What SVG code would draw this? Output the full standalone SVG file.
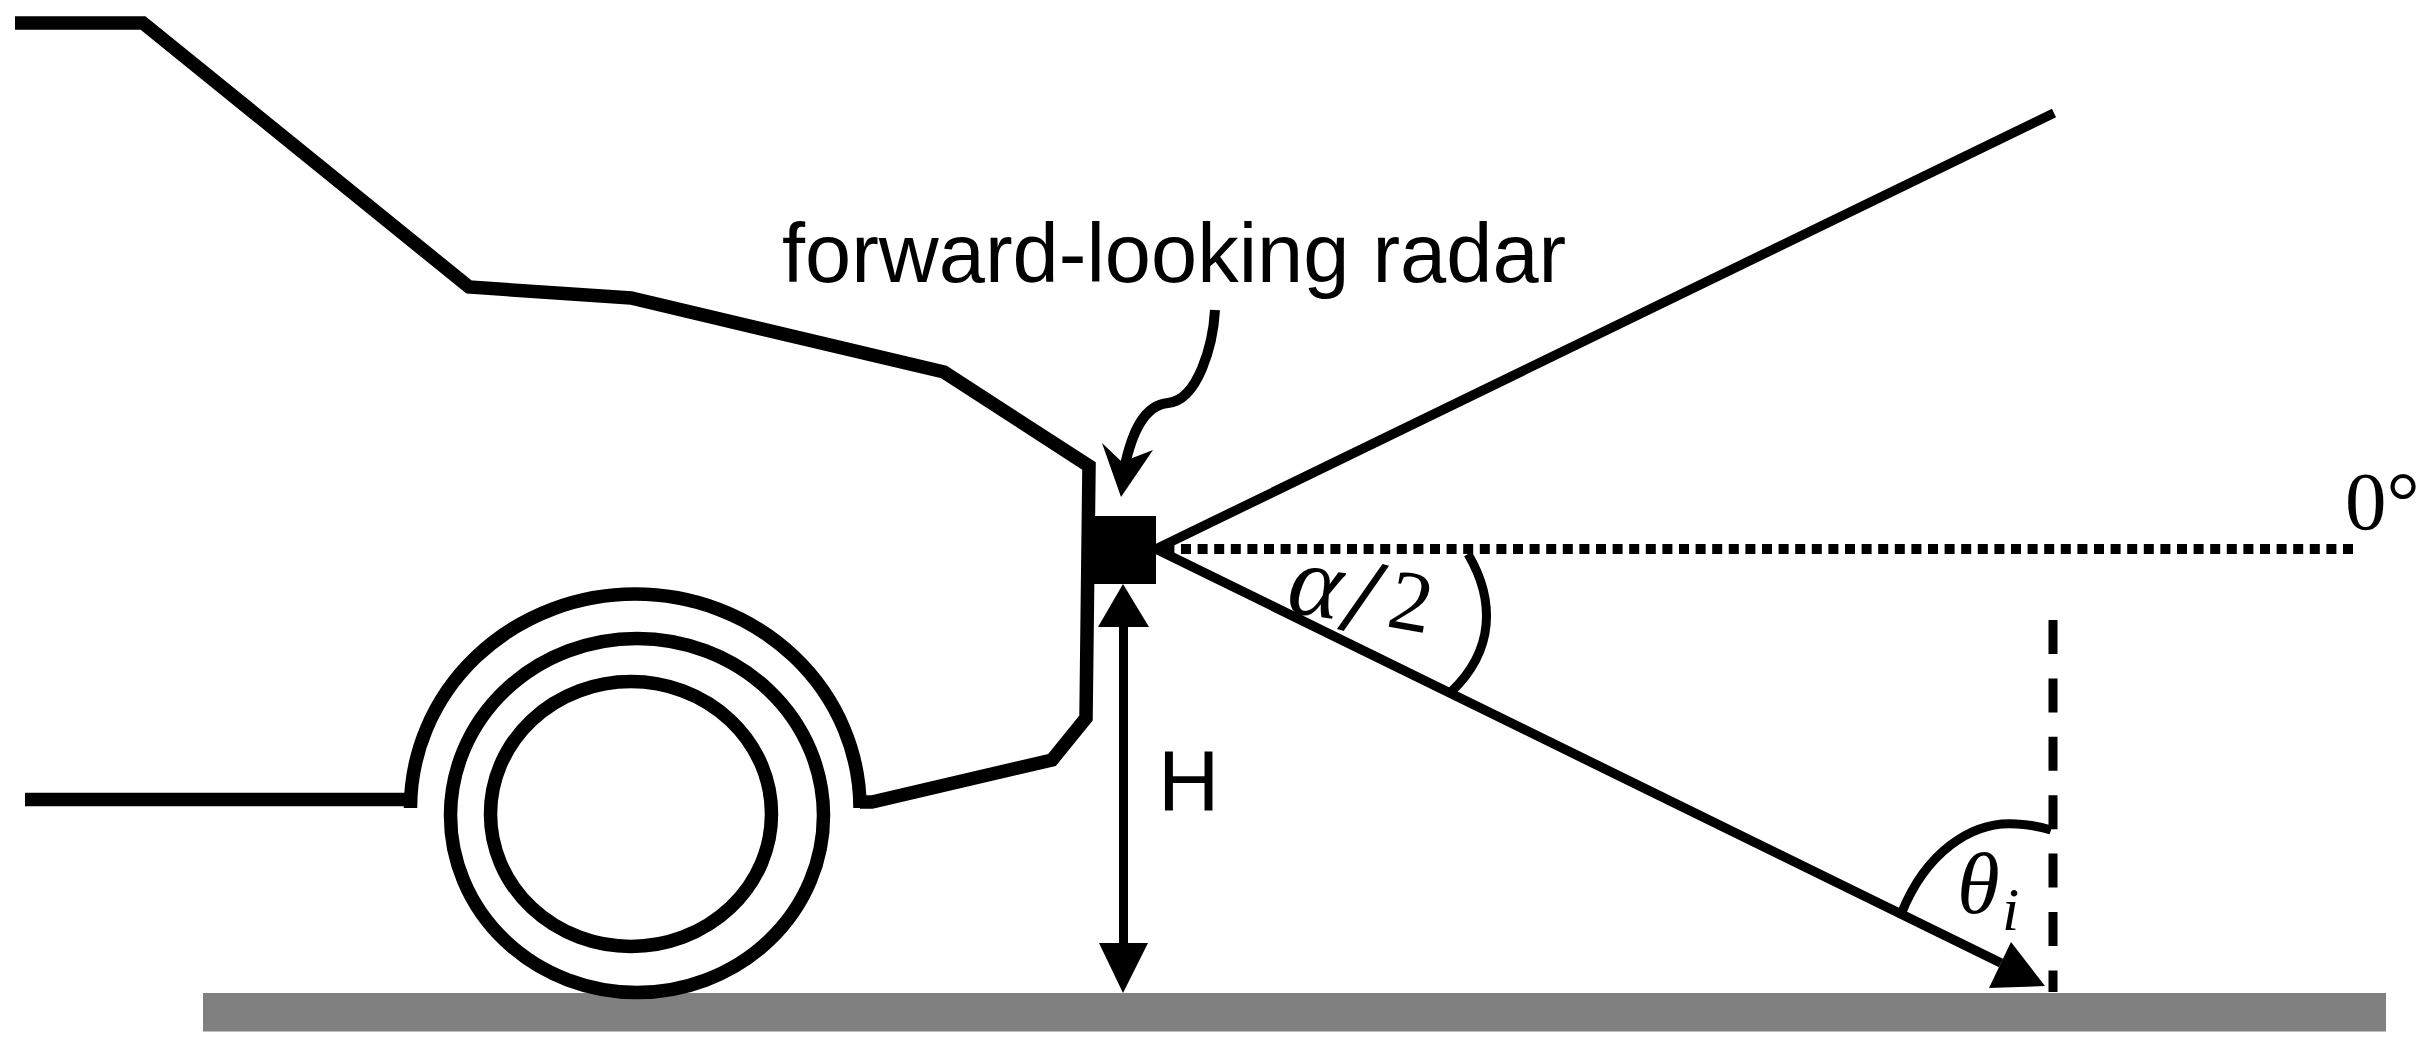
<svg xmlns="http://www.w3.org/2000/svg" width="2429" height="1043" viewBox="0 0 2429 1043">
<style>
.k{fill:none;stroke:#000;stroke-linejoin:miter;stroke-linecap:butt}
.b{stroke-width:13.5}
.t{stroke-width:9.5}
.a{fill:#000;stroke:none}
.sans{font-family:"Liberation Sans",Arial,sans-serif;fill:#000}
.serif{font-family:"Liberation Serif","Times New Roman",serif;fill:#000}
.it{font-style:italic}
</style>
<rect width="2429" height="1043" fill="#fff"/>
<g id="ground"><rect x="203" y="993" width="2183" height="38.5" fill="#808080"/></g>
<g id="car">
<polyline class="k b" points="15,23 143,23 469,287 631,298 944,372 1089,466 1086,718 1052,760 872,802 860,802"/>
<line class="k b" x1="25" y1="799.5" x2="410" y2="799.5"/>
<path class="k b" d="M410.5,808 A224.75,214 0 0 1 860,808"/>
<ellipse class="k b" cx="637" cy="815.5" rx="186.5" ry="177"/>
<ellipse class="k b" cx="631" cy="814" rx="140.5" ry="132.5"/>
</g>
<g id="radar"><rect x="1082" y="516" width="74" height="68" fill="#000"/></g>
<g id="connectors">
<polyline class="k t" points="2054,113 1156,549 2001,963"/>
<line class="k" stroke-width="10" stroke-dasharray="10 6.6" x1="1164.4" y1="549" x2="2357" y2="549"/>
<line class="k" stroke-width="9" stroke-dasharray="34 24.4" x1="2053" y1="620" x2="2053" y2="992"/>
<path class="k" stroke-width="9" d="M1468,554 C1495,600 1495,650 1451,692"/>
<path class="k" stroke-width="9" d="M1902,912 C1925,855 1970,820 2017,824 Q2035,825 2051,830"/>
<polygon class="a" points="2011,942 1989,988 2045,986"/>
<path class="k" stroke-width="10" d="M1215,310 C1213,345 1198,400 1168,403 C1145,405 1132,430 1124,470"/>
<polygon class="a" points="1121,497 1102,443 1122,462 1153,450"/>
<line class="k" stroke-width="9" x1="1123.5" y1="620" x2="1123.5" y2="950"/>
<polygon class="a" points="1123,584 1098,627 1149,627"/>
<polygon class="a" points="1123,993 1099,943 1148,943"/>
</g>
<g id="labels">
<text class="sans" x="782" y="282" font-size="83">forward-looking radar</text>
<text class="sans" x="1158" y="810" font-size="85">H</text>
<text class="serif" x="2345" y="529" font-size="83">0°</text>
<text class="serif it" transform="translate(1285,612) rotate(8)" font-size="102">α</text>
<text class="serif" transform="translate(1363,597) rotate(16)" x="0" y="36" text-anchor="middle" font-size="110" stroke="#000" stroke-width="1.5">/</text>
<text class="serif" transform="translate(1385,626) rotate(10)" font-size="86">2</text>
<text class="serif it" x="1957" y="913" font-size="87">θ</text>
<text class="serif it" x="2002" y="930" font-size="62">i</text>
</g>
</svg>
